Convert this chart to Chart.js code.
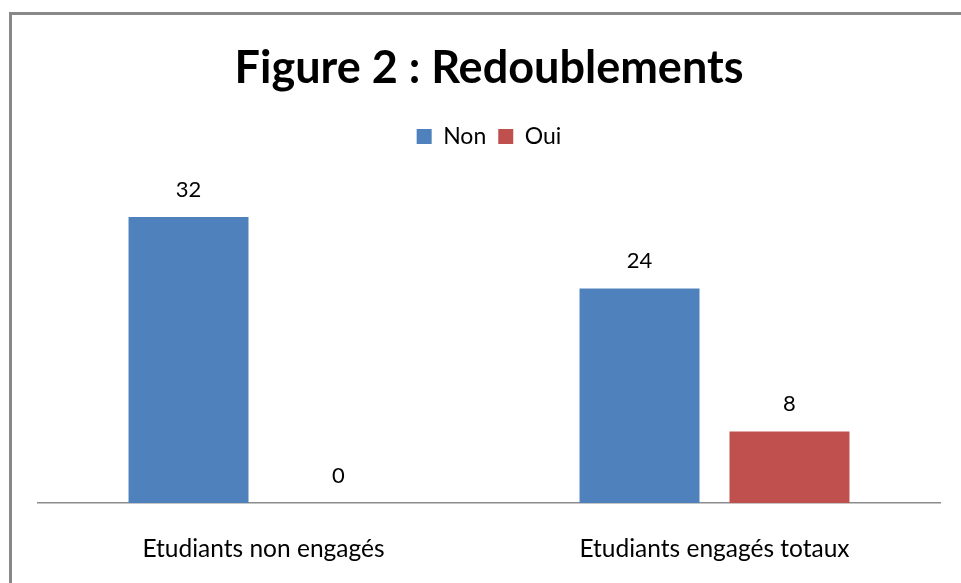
<!DOCTYPE html>
<html lang="fr">
<head>
<meta charset="UTF-8">
<title>Figure 2 : Redoublements</title>
<script src="https://cdn.jsdelivr.net/npm/chart.js"></script>
<style>
  html, body { margin: 0; padding: 0; background: #fff; overflow: hidden; }
  .frame {
    position: absolute; left: 9px; top: 12px;
    width: 1100px; height: 800px;
    border: 3px solid #888;
  }
  .wrap { position: absolute; left: 0; top: 0; width: 961px; height: 583px; }
</style>
</head>
<body>
<div class="frame"></div>
<div class="wrap"><canvas id="chart" width="961" height="583"></canvas></div>
<script>
// data
const categories = ['Etudiants non engagés', 'Etudiants engagés totaux'];
const seriesNames = ['Non', 'Oui'];
const nonValues = [32, 24];
const ouiValues = [0, 8];

const FONT = 'Lato, "Liberation Sans Narrow", sans-serif';

// draws the value above each bar
const valueLabels = {
  id: 'valueLabels',
  afterDatasetsDraw(chart) {
    const ctx = chart.ctx;
    ctx.save();
    ctx.font = '22px ' + FONT;
    ctx.fillStyle = '#000';
    ctx.textAlign = 'center';
    ctx.textBaseline = 'alphabetic';
    chart.data.datasets.forEach((ds, i) => {
      chart.getDatasetMeta(i).data.forEach((bar, j) => {
        ctx.fillText(String(ds.data[j]), bar.x, bar.y - 20);
      });
    });
    ctx.restore();
  }
};

new Chart(document.getElementById('chart'), {
  type: 'bar',
  data: {
    labels: categories,
    datasets: [
      { label: seriesNames[0], data: nonValues, backgroundColor: '#4F81BD' },
      { label: seriesNames[1], data: ouiValues, backgroundColor: '#C0504D' }
    ]
  },
  options: {
    responsive: false,
    animation: false,
    categoryPercentage: 0.665,
    barPercentage: 0.8,
    layout: { padding: { top: 20, left: 38, right: 21, bottom: 0 } },
    plugins: {
      title: {
        display: true,
        text: 'Figure 2 : Redoublements',
        color: '#000',
        font: { family: FONT, size: 45, weight: 'bold' },
        padding: { top: 21, bottom: 18 }
      },
      legend: {
        display: true,
        labels: {
          color: '#000',
          boxWidth: 15,
          boxHeight: 15,
          padding: 12,
          font: { family: FONT, size: 23 }
        }
      },
      tooltip: { enabled: false }
    },
    scales: {
      x: {
        grid: { display: false, drawTicks: false },
        border: { display: true, color: '#8c8c8c', width: 1.5 },
        ticks: { color: '#000', padding: 31, font: { family: FONT, size: 24.5 } },
        afterFit(scale) { scale.height = 80; }
      },
      y: {
        display: false,
        min: 0,
        max: 38.6
      }
    }
  },
  plugins: [valueLabels]
});
</script>
</body>
</html>
